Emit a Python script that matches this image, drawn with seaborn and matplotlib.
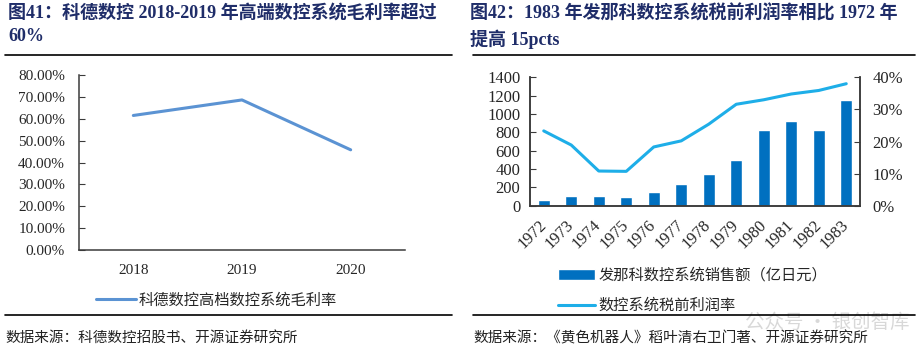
import numpy as np
import pandas as pd
import matplotlib
matplotlib.use('Agg')
import matplotlib.pyplot as plt
import seaborn as sns
from matplotlib.lines import Line2D
from matplotlib.ticker import PercentFormatter, FixedLocator

# 图41 数据
kede_years = ['2018', '2019', '2020']
kede_margin = [0.615, 0.686, 0.458]

# 图42 数据
fanuc_years = ['1972', '1973', '1974', '1975', '1976', '1977',
               '1978', '1979', '1980', '1981', '1982', '1983']
fanuc_sales = [65, 110, 106, 90, 145, 240, 345, 500, 820, 920, 825, 1150]
fanuc_margin = [0.233, 0.189, 0.108, 0.107, 0.183, 0.202,
                0.254, 0.316, 0.330, 0.348, 0.359, 0.380]

sns.set_style('white')
plt.rcParams['font.family'] = ['Liberation Serif', 'Noto Sans CJK SC', 'DejaVu Sans']
plt.rcParams['axes.unicode_minus'] = False

CJK = ['Noto Sans CJK SC', 'DejaVu Sans']
TITLE_FONT = ['Liberation Serif', 'Noto Sans CJK SC']
title_color = '#1f2d69'
spine_color = '#3a3a3a'

fig = plt.figure(figsize=(9.18, 3.54), dpi=100)
W, H = 918, 354

def fx(px):
    return px / W

def fy(px):
    return 1 - px / H

# 标题与分隔线
fig.text(fx(8), fy(4), '图41：科德数控 2018-2019 年高端数控系统毛利率超过\n60%',
         family=TITLE_FONT, fontsize=13, weight='bold', color=title_color,
         va='top', ha='left', linespacing=1.45)
fig.text(fx(470), fy(4), '图42：1983 年发那科数控系统税前利润率相比 1972 年\n提高 15pcts',
         family=TITLE_FONT, fontsize=13, weight='bold', color=title_color,
         va='top', ha='left', linespacing=1.45)
for y in (55, 315):
    fig.add_artist(Line2D([fx(5), fx(452)], [fy(y), fy(y)], color='black', lw=1.2))
    fig.add_artist(Line2D([fx(473), fx(915)], [fy(y), fy(y)], color='black', lw=1.2))

fig.text(fx(5), fy(338), '数据来源：科德数控招股书、开源证券研究所',
         family=CJK, fontsize=10.5, color='#222222', va='center')
fig.text(fx(473), fy(338), '数据来源：《黄色机器人》稻叶清右卫门著、开源证券研究所',
         family=CJK, fontsize=10.5, color='#222222', va='center')
# 水印
fig.text(fx(745), fy(322), '公众号 · 银创智库', family=CJK, fontsize=14,
         color='#cfcfcf', va='center', alpha=0.8, zorder=0)

# ---------------- 左图 ----------------
ax1 = fig.add_axes([fx(79), fy(250), fx(405) - fx(79), fy(75) - fy(250)])
df1 = pd.DataFrame({'year': kede_years, 'margin': kede_margin})
df1['pos'] = np.arange(len(df1))
sns.lineplot(data=df1, x='pos', y='margin', ax=ax1, color='#5b93d3', lw=2.2,
             label='科德数控高档数控系统毛利率')
ax1.set_xlim(-0.5, len(df1) - 0.5)
ax1.set_ylim(0, 0.8)
ax1.set_yticks(np.arange(0, 0.81, 0.1))
ax1.yaxis.set_major_formatter(PercentFormatter(xmax=1, decimals=2))
ax1.set_xticks(df1['pos'])
ax1.set_xticklabels(kede_years)
ax1.xaxis.set_minor_locator(FixedLocator(np.arange(-0.5, len(df1), 1.0)))
ax1.tick_params(axis='x', which='major', length=0, pad=10, labelsize=11)
ax1.tick_params(axis='x', which='minor', direction='in', length=4, color=spine_color)
ax1.tick_params(axis='y', direction='in', length=4, pad=10, labelsize=11, color=spine_color, left=True)
ax1.set_xlabel('')
ax1.set_ylabel('')
for s in ['top', 'right']:
    ax1.spines[s].set_visible(False)
for s in ['left', 'bottom']:
    ax1.spines[s].set_color(spine_color)
    ax1.spines[s].set_linewidth(1.1)
ax1.legend(loc='center left', bbox_to_anchor=(fx(96), fy(300)),
           bbox_transform=fig.transFigure, frameon=False, borderpad=0,
           borderaxespad=0, handlelength=2.6, handletextpad=0.2,
           prop={'family': CJK, 'size': 11})

# ---------------- 右图 ----------------
ax2 = fig.add_axes([fx(530), fy(205.7), fx(860) - fx(530), fy(77.3) - fy(205.7)])
df2 = pd.DataFrame({'year': fanuc_years, 'sales': fanuc_sales, 'margin': fanuc_margin})
df2['pos'] = np.arange(len(df2))
sns.barplot(data=df2, x='year', y='sales', ax=ax2, color='#0070c0', width=0.42,
            saturation=1, label='发那科数控系统销售额（亿日元）')
ax2.set_xlim(-0.5, len(df2) - 0.5)
ax2.set_ylim(0, 1400)
ax2.set_yticks(np.arange(0, 1401, 200))
ax2.set_xlabel('')
ax2.set_ylabel('')

ax3 = ax2.twinx()
sns.lineplot(data=df2, x='pos', y='margin', ax=ax3, color='#1eaee8', lw=2.2,
             label='数控系统税前利润率')
ax3.set_xlim(-0.5, len(df2) - 0.5)
ax3.set_ylim(0, 0.4)
ax3.set_yticks(np.arange(0, 0.41, 0.1))
ax3.yaxis.set_major_formatter(PercentFormatter(xmax=1, decimals=0))
ax3.set_ylabel('')

ax2.set_xticks(df2['pos'])
ax2.set_xticklabels(fanuc_years, rotation=45, ha='right', va='center',
                    rotation_mode='anchor')
ax2.xaxis.set_minor_locator(FixedLocator(np.arange(-0.5, len(df2), 1.0)))
ax2.tick_params(axis='x', which='major', length=0, pad=12, labelsize=12)
ax2.tick_params(axis='x', which='minor', direction='in', length=4, color=spine_color)
ax2.tick_params(axis='y', direction='in', length=4, pad=7, labelsize=12, color=spine_color, left=True)
ax3.tick_params(axis='y', direction='in', length=4, pad=9, labelsize=12, color=spine_color, right=True)
for a in (ax2, ax3):
    a.spines['top'].set_visible(False)
    for s in ['left', 'bottom', 'right']:
        a.spines[s].set_color(spine_color)
        a.spines[s].set_linewidth(1.1)

h2, l2 = ax2.get_legend_handles_labels()
h3, l3 = ax3.get_legend_handles_labels()
if ax3.get_legend() is not None:
    ax3.get_legend().remove()
ax2.legend(h2 + h3, l2 + l3, loc='upper left', bbox_to_anchor=(fx(558), fy(267)),
           bbox_transform=fig.transFigure, frameon=False, borderpad=0,
           borderaxespad=0, handlelength=2.4, handletextpad=0.25,
           labelspacing=0.85, prop={'family': CJK, 'size': 11})

fig.savefig('out.png', dpi=100)
